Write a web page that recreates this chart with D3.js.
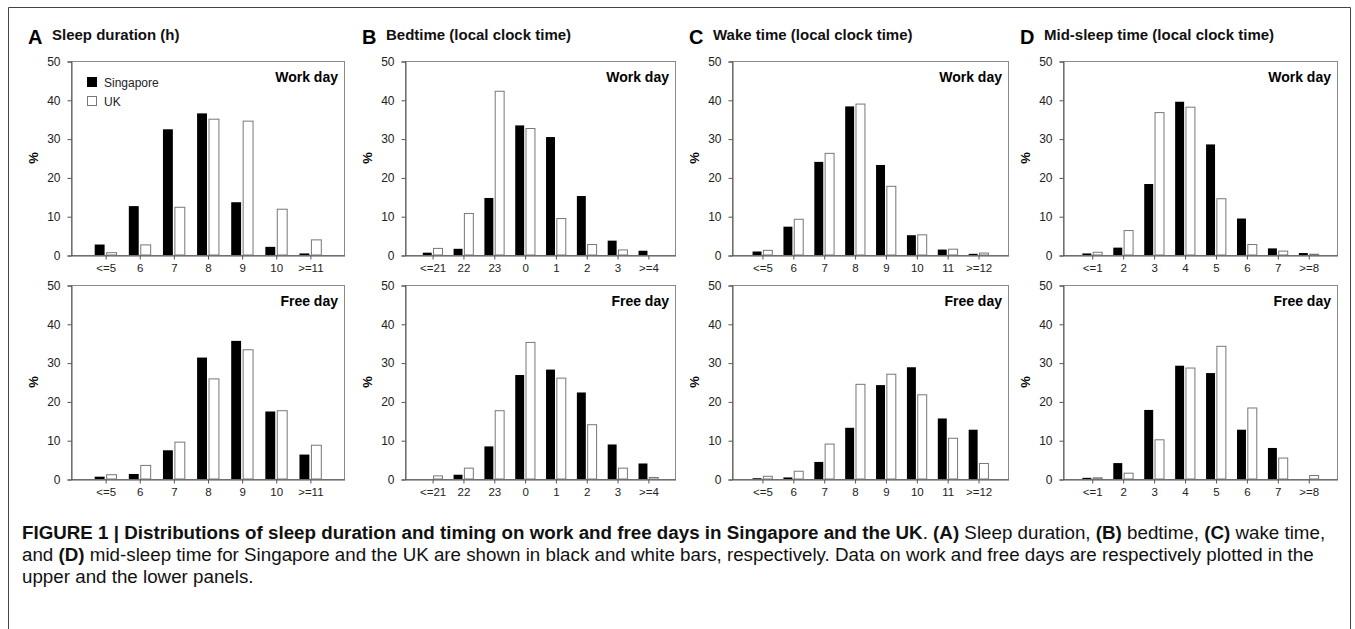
<!DOCTYPE html>
<html>
<head>
<meta charset="utf-8">
<script src="https://cdn.jsdelivr.net/npm/d3@7/dist/d3.min.js"></script>
<style>
  body { margin: 0; background: #fff; }
  svg { display: block; font-family: "Liberation Sans", Arial, sans-serif; }
</style>
</head>
<body>
<svg id="fig" width="1355" height="629"></svg>
<script>
// Categories (x tick labels)
var durationCats = ["<=5", "6", "7", "8", "9", "10", ">=11"];
var bedCats = ["<=21", "22", "23", "0", "1", "2", "3", ">=4"];
var wakeCats = ["<=5", "6", "7", "8", "9", "10", "11", ">=12"];
var midCats = ["<=1", "2", "3", "4", "5", "6", "7", ">=8"];

// Percentages
var durWorkSg = [2.7, 12.6, 32.4, 36.5, 13.6, 2.1, 0.4];
var durWorkUk = [0.6, 2.6, 12.3, 35.0, 34.5, 11.8, 3.9];
var durFreeSg = [0.6, 1.3, 7.4, 31.3, 35.6, 17.4, 6.3];
var durFreeUk = [1.1, 3.5, 9.5, 25.8, 33.3, 17.6, 8.7];

var bedWorkSg = [0.6, 1.6, 14.7, 33.4, 30.4, 15.2, 3.7, 1.1];
var bedWorkUk = [1.7, 10.7, 42.2, 32.6, 9.4, 2.7, 1.3, 0];
var bedFreeSg = [0, 1.1, 8.4, 26.8, 28.2, 22.3, 8.9, 4.0];
var bedFreeUk = [0.8, 2.8, 17.6, 35.2, 26.0, 14.0, 2.8, 0.4];

var wakeWorkSg = [0.9, 7.3, 24.0, 38.3, 23.2, 5.1, 1.4, 0.3];
var wakeWorkUk = [1.2, 9.2, 26.2, 38.9, 17.7, 5.2, 1.5, 0.5];
var wakeFreeSg = [0.2, 0.4, 4.4, 13.2, 24.2, 28.8, 15.6, 12.7];
var wakeFreeUk = [0.7, 2.0, 9.0, 24.4, 27.0, 21.7, 10.5, 4.0];

var midWorkSg = [0.4, 1.9, 18.3, 39.5, 28.5, 9.4, 1.7, 0.5];
var midWorkUk = [0.7, 6.3, 36.7, 38.1, 14.5, 2.7, 1.0, 0.2];
var midFreeSg = [0.3, 4.1, 17.8, 29.2, 27.3, 12.7, 8.0, 0];
var midFreeUk = [0.3, 1.5, 10.1, 28.6, 34.2, 18.3, 5.4, 0.9];

var yTicks = [0, 10, 20, 30, 40, 50];
var seriesNames = ["Singapore", "UK"];

var svg = d3.select("#fig");

// outer figure frame
svg.append("path")
  .attr("d", "M8.5,640V7.5H1350.5V640")
  .attr("fill", "none").attr("stroke", "#444").attr("stroke-width", 1);

var rows = [{ top: 61, bottom: 255, label: "Work day" }, { top: 285, bottom: 479, label: "Free day" }];

var panels = [
  { letter: "A", title: "Sleep duration (h)", x0: 71, x1: 344, pad: 1, cats: durationCats,
    data: [[durWorkSg, durWorkUk], [durFreeSg, durFreeUk]], legend: true },
  { letter: "B", title: "Bedtime (local clock time)", x0: 405, x1: 675, pad: 0.88, cats: bedCats,
    data: [[bedWorkSg, bedWorkUk], [bedFreeSg, bedFreeUk]] },
  { letter: "C", title: "Wake time (local clock time)", x0: 732, x1: 1008, pad: 0.97, cats: wakeCats,
    data: [[wakeWorkSg, wakeWorkUk], [wakeFreeSg, wakeFreeUk]] },
  { letter: "D", title: "Mid-sleep time (local clock time)", x0: 1063, x1: 1337, pad: 0.93, cats: midCats,
    data: [[midWorkSg, midWorkUk], [midFreeSg, midFreeUk]] }
];

var tickFont = "'Liberation Sans', Arial, sans-serif";

panels.forEach(function(p) {
  // panel heading
  svg.append("text").attr("x", p.x0 - 43).attr("y", 44)
    .attr("font-weight", "bold").attr("font-size", 20).text(p.letter);
  svg.append("text").attr("x", p.x0 - 19).attr("y", 40)
    .attr("font-weight", "bold").attr("font-size", 15).attr("fill", "#111").text(p.title);

  rows.forEach(function(r, ri) {
    var x = d3.scalePoint().domain(p.cats).range([p.x0, p.x1]).padding(p.pad);
    var y = d3.scaleLinear().domain([0, 50]).range([r.bottom, r.top]);
    var step = x.step();
    var bw = step * 0.29, gap = step * 0.06;
    var g = svg.append("g");

    // box
    g.append("rect")
      .attr("x", p.x0 + 0.5).attr("y", r.top + 0.5)
      .attr("width", p.x1 - p.x0).attr("height", r.bottom - r.top)
      .attr("fill", "none").attr("stroke", "#8a8a8a");

    // y axis
    var yAxis = d3.axisLeft(y).tickValues(yTicks).tickSize(4).tickPadding(7);
    var ya = g.append("g").attr("transform", "translate(" + (p.x0 + 0.5) + ",0.5)").call(yAxis);
    ya.attr("font-size", null).attr("font-family", null);
    ya.select(".domain").attr("stroke", "#555");
    ya.selectAll(".tick line").attr("stroke", "#555");
    ya.selectAll("text").style("font-size", "12px").attr("fill", "#222").style("font-family", tickFont);

    // x axis
    var xAxis = d3.axisBottom(x).tickSize(4).tickPadding(4).tickSizeOuter(0);
    var xa = g.append("g").attr("transform", "translate(0.5," + (r.bottom + 0.5) + ")").call(xAxis);
    xa.attr("font-size", null).attr("font-family", null);
    xa.select(".domain").attr("stroke", "#555");
    xa.selectAll(".tick line").attr("stroke", "#555");
    xa.selectAll("text").style("font-size", "11.5px").attr("fill", "#222").style("font-family", tickFont);

    // y title
    g.append("text")
      .attr("transform", "translate(" + (p.x0 - 33) + "," + ((r.top + r.bottom) / 2) + ") rotate(-90)")
      .attr("text-anchor", "middle").attr("font-weight", "bold").attr("font-size", 13)
      .text("%");

    var sg = p.data[ri][0], uk = p.data[ri][1];
    g.selectAll("rect.sg").data(sg).enter().append("rect")
      .attr("class", "sg")
      .attr("x", function(d, i) { return x(p.cats[i]) - gap / 2 - bw + 0.5; })
      .attr("y", function(d) { return y(d); })
      .attr("width", bw)
      .attr("height", function(d) { return r.bottom - y(d); })
      .attr("fill", "#000");
    g.selectAll("rect.uk").data(uk).enter().append("rect")
      .attr("class", "uk")
      .attr("x", function(d, i) { return x(p.cats[i]) + gap / 2 + 0.5; })
      .attr("y", function(d) { return y(d); })
      .attr("width", bw)
      .attr("height", function(d) { return r.bottom - y(d); })
      .attr("fill", function(d) { return d > 0 ? "#fff" : "none"; })
      .attr("stroke", function(d) { return d > 0 ? "#777" : "none"; })
      .attr("stroke-width", 1);

    // row label
    g.append("text").attr("x", p.x1 - 6).attr("y", r.top + 21)
      .attr("text-anchor", "end").attr("font-weight", "bold").attr("font-size", 14)
      .text(r.label);

    // legend (panel A, work day only)
    if (p.legend && ri === 0) {
      var lg = g.append("g").attr("transform", "translate(" + (p.x0 + 16) + "," + (r.top + 16) + ")");
      seriesNames.forEach(function(name, k) {
        lg.append("rect").attr("x", 0.5).attr("y", k * 19 + 0.5).attr("width", 9).attr("height", 9)
          .attr("fill", k === 0 ? "#000" : "#fff").attr("stroke", k === 0 ? "#000" : "#777");
        lg.append("text").attr("x", 17).attr("y", k * 19 + 9.5).attr("font-size", 12)
          .attr("fill", "#222").text(name);
      });
    }
  });
});

// caption
var capLines = [
  [["b", "FIGURE 1 | Distributions of sleep duration and timing on work and free days in Singapore and the UK"],
   ["n", ". "], ["b", "(A)"], ["n", " Sleep duration, "], ["b", "(B)"], ["n", " bedtime, "],
   ["b", "(C)"], ["n", " wake time,"]],
  [["n", "and "], ["b", "(D)"], ["n", " mid-sleep time for Singapore and the UK are shown in black and white bars, respectively. Data on work and free days are respectively plotted in the"]],
  [["n", "upper and the lower panels."]]
];
var cap = svg.append("g").attr("class", "caption");
var capTexts = capLines.map(function(line, li) {
  var t = cap.append("text").attr("x", 0).attr("y", 539 + li * 22)
    .attr("font-size", 18.5).attr("fill", "#111");
  line.forEach(function(seg) {
    t.append("tspan").attr("font-weight", seg[0] === "b" ? "bold" : "normal").text(seg[1]);
  });
  return t;
});
// fit the first line to the reference width, using a condensed horizontal scale
var w0 = capTexts[0].node().getComputedTextLength();
var sx = (1326 - 22) / w0;
cap.attr("transform", "translate(22,0) scale(" + sx + ",1)");
</script>
</body>
</html>
